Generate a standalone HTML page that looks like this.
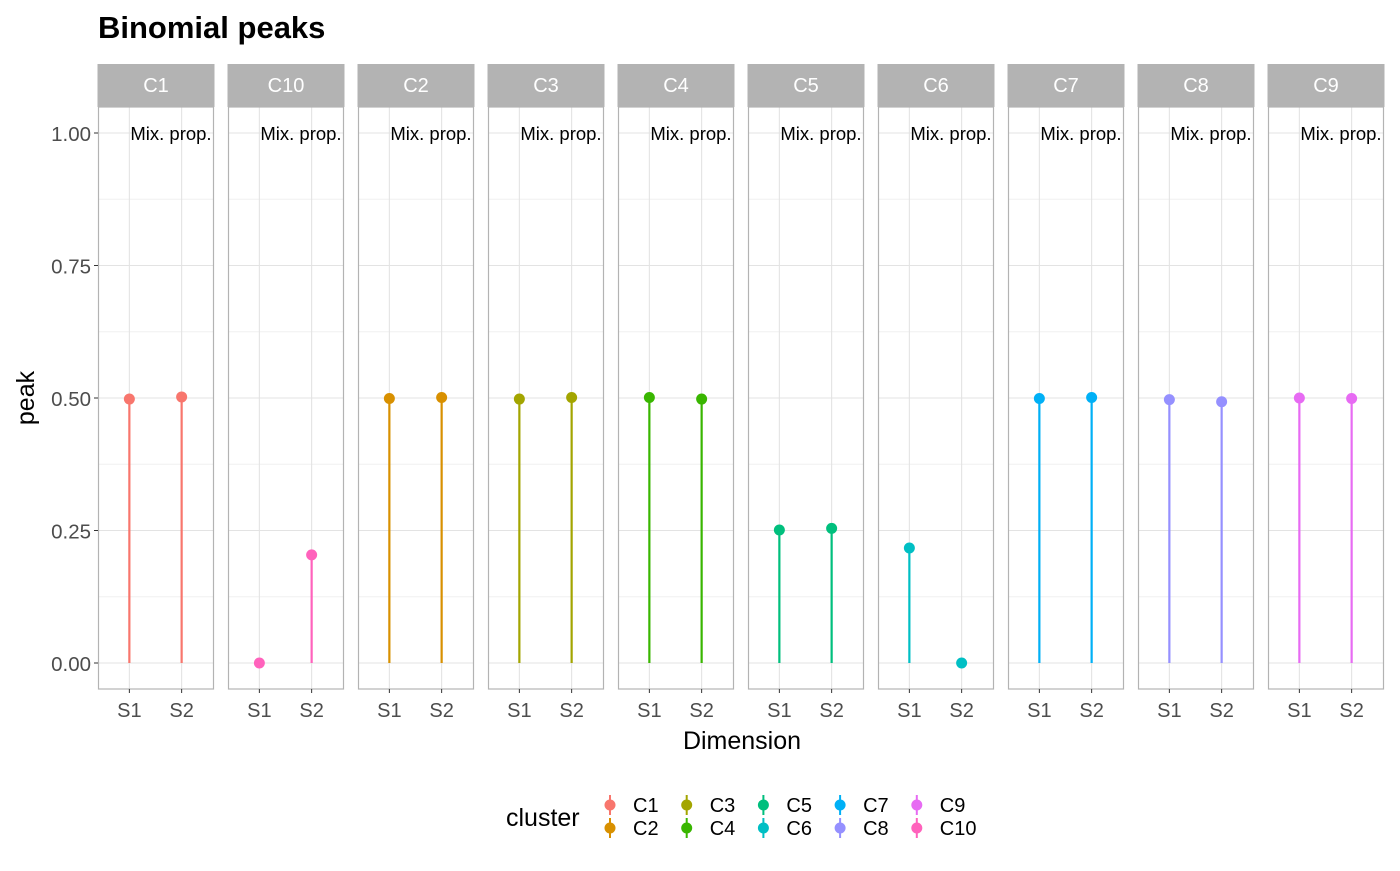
<!DOCTYPE html>
<html><head><meta charset="utf-8"><style>
body{margin:0;background:#fff;font-family:"Liberation Sans",sans-serif}
</style></head><body>
<svg id="chart" width="1400" height="866" xmlns="http://www.w3.org/2000/svg" font-family="Liberation Sans, sans-serif">
<text x="98" y="38" font-size="31" font-weight="bold">Binomial peaks</text>
<text transform="translate(34,398) rotate(-90)" text-anchor="middle" font-size="25">peak</text>
<text x="742" y="749" text-anchor="middle" font-size="25">Dimension</text>
<g id="panels"></g>
<g id="yaxis"></g>
<g id="legend"></g>
</svg>
<script>
const panels=["C1","C10","C2","C3","C4","C5","C6","C7","C8","C9"];
const dims=["S1","S2"];
const s1Values=[0.498,0,0.499,0.498,0.501,0.251,0.217,0.499,0.497,0.500];
const s2Values=[0.502,0.204,0.501,0.501,0.498,0.254,0,0.501,0.493,0.499];
const colors={C1:"#F8766D",C2:"#D89000",C3:"#A3A500",C4:"#39B600",C5:"#00BF7D",C6:"#00BFC4",C7:"#00B0F6",C8:"#9590FF",C9:"#E76BF3",C10:"#FF62BC"};
const yTicks=[0,0.25,0.5,0.75,1.0];
const yTickLabels=["0.00","0.25","0.50","0.75","1.00"];
const legendOrder=["C1","C2","C3","C4","C5","C6","C7","C8","C9","C10"];
const NS="http://www.w3.org/2000/svg";
function mk(p,t,a){const e=document.createElementNS(NS,t);for(const k in a)e.setAttribute(k,a[k]);p.appendChild(e);return e;}
const top0=107,bot=689,pw=115,gap=130,left0=98;
const y=v=>663-v*530;
const xs=(i,j)=>left0+i*gap+pw*(0.6+j)/2.2;
const P=document.getElementById("panels");
panels.forEach((c,i)=>{
  const g=mk(P,"g",{});
  
  
  const x0=left0+i*gap;
  [0.125,0.375,0.625,0.875].forEach(v=>mk(g,"line",{x1:x0,x2:x0+pw,y1:y(v),y2:y(v),stroke:"#f0f0f0","stroke-width":1}));
  yTicks.forEach(v=>mk(g,"line",{x1:x0,x2:x0+pw,y1:y(v),y2:y(v),stroke:"#e3e3e3","stroke-width":1.1}));
  dims.forEach((d,j)=>{mk(g,"line",{x1:xs(i,j),x2:xs(i,j),y1:top0,y2:bot,stroke:"#e3e3e3","stroke-width":1.1});});
  const vals=[s1Values[i],s2Values[i]];
  vals.forEach((v,j)=>{
    const l=mk(g,"line",{x1:xs(i,j),x2:xs(i,j),y1:y(0),y2:y(v),stroke:colors[c],"stroke-width":2.2});
    
    
    const pt=mk(g,"circle",{cx:xs(i,j),cy:y(v),r:5.5,fill:colors[c]});
    
    
  });
  const t=mk(g,"text",{x:xs(i,0)+1,y:y(1)+7,"font-size":18.5});t.textContent="Mix. prop.";
  
  
  mk(g,"rect",{x:x0+0.5,y:top0,width:pw,height:bot-top0,fill:"none",stroke:"#b3b3b3","stroke-width":1.2});
  const s=mk(g,"rect",{x:x0-0.5,y:64,width:pw+2,height:43,fill:"#b3b3b3"});
  
  
  const st=mk(g,"text",{x:x0+pw/2+0.5,y:92,"text-anchor":"middle","font-size":20,fill:"#fff"});st.textContent=c;
  dims.forEach((d,j)=>{
    mk(g,"line",{x1:xs(i,j),x2:xs(i,j),y1:bot,y2:bot+4,stroke:"#333","stroke-width":1});
    const tl=mk(g,"text",{x:xs(i,j),y:bot+28,"text-anchor":"middle","font-size":20,fill:"#4d4d4d"});tl.textContent=d;
    
    
  });
});
const Y=document.getElementById("yaxis");
yTicks.forEach((v,k)=>{
  mk(Y,"line",{x1:94,x2:98,y1:y(v),y2:y(v),stroke:"#333","stroke-width":1});
  const t=mk(Y,"text",{x:91,y:y(v)+8,"text-anchor":"end","font-size":20.5,fill:"#4d4d4d"});t.textContent=yTickLabels[k];
  
  
});
const L=document.getElementById("legend");
const lt=mk(L,"text",{x:506,y:826,"font-size":25});lt.textContent="cluster";


legendOrder.forEach((c,k)=>{
  const col=Math.floor(k/2),row=k%2;
  const cx=610+col*76.7,cy=805+row*23;
  const g=mk(L,"g",{});
  
  
  mk(g,"line",{x1:cx,x2:cx,y1:cy-10,y2:cy+10,stroke:colors[c],"stroke-width":2});
  mk(g,"circle",{cx:cx,cy:cy,r:5.5,fill:colors[c]});
  const t=mk(g,"text",{x:cx+23,y:cy+7,"font-size":20});t.textContent=c;
});
</script>
</body></html>
